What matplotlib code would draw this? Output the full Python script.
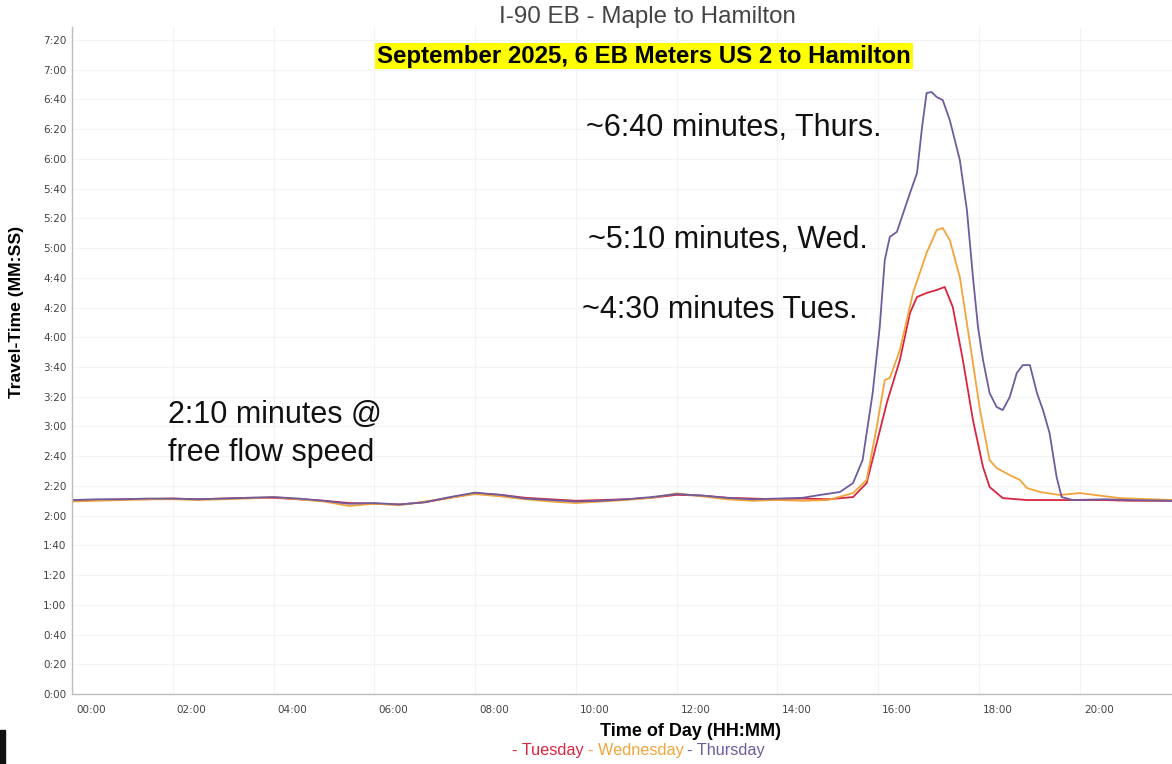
import numpy as np
import matplotlib.pyplot as plt
from matplotlib.patches import Rectangle
from matplotlib.transforms import ScaledTranslation

# ---- data (hours of day, travel time in seconds) ----
base_hours = [0, 0.5, 1, 1.5, 2, 2.5, 3, 3.5, 4, 4.5, 5, 5.5, 6, 6.5, 7, 7.5,
              8, 8.5, 9, 9.5, 10, 10.5, 11, 11.5, 12, 12.5, 13, 13.5, 14, 14.5]
tue_base = [130, 130.5, 131, 131, 131.5, 131, 131.5, 132, 132, 131, 130, 128.5,
            128, 127.5, 129, 132, 135, 134, 132, 131, 130, 130.5, 131, 132,
            134, 133.5, 132, 131.5, 131, 131.5]
wed_base = [129.5, 130, 130.5, 131, 131, 130.5, 131, 131.5, 132.5, 131, 129.5,
            126.5, 128, 127, 129.5, 132, 134.5, 133, 131, 129.5, 128.5, 129.5,
            130.5, 132, 135, 133, 131, 130, 130.5, 130]
thu_base = [130.5, 131, 131, 131.5, 131.5, 131, 131.5, 132, 132.5, 131.5, 130,
            128, 128.5, 127.5, 129, 132.5, 135.5, 134, 131.5, 130.5, 129.5, 130,
            131, 132.5, 134.5, 133.5, 132, 131, 131.5, 132]

tue_pm_hours = [15.0, 15.5, 15.77, 15.97, 16.17, 16.43, 16.63, 16.77, 16.96,
                17.16, 17.32, 17.48, 17.68, 17.88, 18.08, 18.21, 18.47, 18.95,
                19.5, 20.0, 20.5, 21.0, 21.83]
tue_pm = [131, 132.5, 141.9, 168.8, 195.8, 224.7, 256.3, 267.1, 269.8, 271.8,
          273.8, 260.3, 224.7, 184.3, 152.7, 139.3, 131.8, 130.5, 130.5, 130.5,
          130.5, 130, 130]

wed_pm_hours = [15.0, 15.5, 15.77, 15.97, 16.13, 16.23, 16.43, 16.69, 16.96,
                17.16, 17.28, 17.42, 17.62, 17.82, 18.02, 18.21, 18.35, 18.61,
                18.81, 18.95, 19.21, 19.6, 20.0, 20.79, 21.83]
wed_pm = [130.5, 135.2, 144, 179.6, 211.2, 212.6, 231.4, 269.8, 296.7, 312.1,
          313.5, 305.4, 280.5, 236.1, 191, 157.4, 152, 147.3, 144, 138.6, 135.9,
          133.9, 135.2, 131.8, 130.5]

thu_pm_hours = [14.84, 15.24, 15.5, 15.69, 15.89, 16.03, 16.13, 16.23, 16.37,
                16.63, 16.77, 16.87, 16.96, 17.06, 17.16, 17.28, 17.42, 17.62,
                17.76, 17.88, 17.98, 18.08, 18.21, 18.35, 18.47, 18.61, 18.75,
                18.87, 19.01, 19.15, 19.27, 19.4, 19.54, 19.64, 19.86, 20.5,
                21.0, 21.83]
thu_pm = [133.9, 135.9, 141.9, 157.4, 202.5, 246.9, 292, 307.5, 310.9, 337,
          350.5, 381.4, 404.3, 405, 401.6, 399.6, 386.1, 359.2, 325.6, 280.5,
          246.9, 224.7, 202.5, 193.1, 191, 199.8, 216, 221.3, 221.3, 202.5, 191,
          175.6, 146, 132.5, 130.5, 131, 130.5, 130]

series = [
    ("Tuesday", base_hours + tue_pm_hours, tue_base + tue_pm, "#d8253f"),
    ("Wednesday", base_hours + wed_pm_hours, wed_base + wed_pm, "#f2a43a"),
    ("Thursday", base_hours + thu_pm_hours, thu_base + thu_pm, "#6f5b9e"),
]

W, H = 1172, 764
fig = plt.figure(figsize=(W / 100, H / 100), dpi=100)
ax = fig.add_axes([0.0614, 0.0916, 0.9386, 0.873])

for name, hh, ss, col in series:
    ax.plot(hh, ss, color=col, linewidth=1.3)

ax.set_xlim(0, 21.83)
ax.set_ylim(0, 448.7)

xt = np.arange(0, 22, 2)
ax.set_xticks(xt)
ax.set_xticklabels(["%02d:00" % h for h in xt], ha="left")
yt = np.arange(0, 441, 20)
ax.set_yticks(yt)
ax.set_yticklabels(["%d:%02d" % (v // 60, v % 60) for v in yt])
ax.tick_params(axis="both", length=0, labelsize=7.5, labelcolor="#444444")
ax.tick_params(axis="y", pad=4)
ax.tick_params(axis="x", pad=8)
off = ScaledTranslation(4 / 100, 0, fig.dpi_scale_trans)
for lab in ax.get_xticklabels():
    lab.set_transform(lab.get_transform() + off)
ax.grid(True, color="#f3f3f3", linewidth=0.8)
ax.set_axisbelow(True)
for s in ["top", "right"]:
    ax.spines[s].set_visible(False)
for s in ["left", "bottom"]:
    ax.spines[s].set_color("#bdbdbd")
    ax.spines[s].set_linewidth(1)

fig.text(691 / W, 1 - 731 / H, "Time of Day (HH:MM)", ha="center", va="center",
         fontsize=13, fontweight="bold", family="Liberation Sans")
fig.text(17 / W, 1 - 312 / H, "Travel-Time (MM:SS)", ha="center", va="center",
         rotation=90, fontsize=12.6, fontweight="bold", family="Liberation Sans")

fig.text(647 / W, 1 - 17 / H, "I-90 EB - Maple to Hamilton", ha="center",
         va="center", fontsize=17.4, color="#444444", family="Liberation Sans")
fig.text(644 / W, 1 - 56 / H, "September 2025, 6 EB Meters US 2 to Hamilton",
         ha="center", va="center", fontsize=17.3, fontweight="bold",
         family="Liberation Sans",
         bbox=dict(boxstyle="square,pad=0.08", fc="#ffff00", ec="none"))

ann = dict(fontsize=22, family="Liberation Sans", color="#111111", va="center")
fig.text(586 / W, 1 - 128 / H, "~6:40 minutes, Thurs.", **ann)
fig.text(588 / W, 1 - 240 / H, "~5:10 minutes, Wed.", **ann)
fig.text(582 / W, 1 - 310 / H, "~4:30 minutes Tues.", **ann)
fig.text(168 / W, 1 - 434 / H, "2:10 minutes @\nfree flow speed",
         linespacing=1.34, **ann)

# legend line with coloured day names
x0 = 512 / W
yl = 1 - 750 / H
r = fig.canvas.get_renderer()
for name, hh, ss, col in series:
    t = fig.text(x0, yl, "- " + name, color=col, fontsize=11.7,
                 family="Liberation Sans", va="center", ha="left")
    bb = t.get_window_extent(renderer=r)
    x0 += (bb.width + 4) / fig.bbox.width

fig.patches.append(Rectangle((0, 0), 5 / W, 34 / H, transform=fig.transFigure,
                             color="#111111"))

fig.savefig("out.png", dpi=100)
